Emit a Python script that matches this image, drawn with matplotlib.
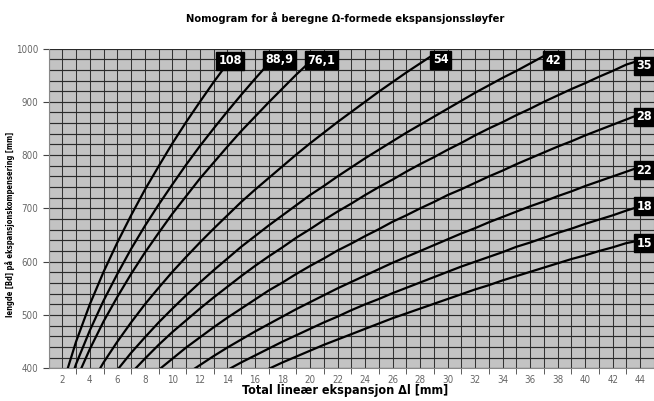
import numpy as np
import matplotlib
matplotlib.use("Agg")
import matplotlib.pyplot as plt
from matplotlib import font_manager

# Nomogram for Ω-formede ekspansjonssløyfer: lengde mot ekspansjon
names = {f.name for f in font_manager.fontManager.ttflist}
NARROW = [n for n in ["Liberation Sans Narrow", "DejaVu Sans"] if n in names]
plt.rcParams["font.family"] = NARROW
plt.rcParams["font.stretch"] = "condensed"

title = "Nomogram for å beregne Ω-formede ekspansjonssløyfer"
x_label = "Total lineær ekspansjon Δl [mm]"
y_label = "lengde [Bd] på ekspansjonskompensering [mm]"

# rørdiameter (etikett) -> første ekspansjon i serien og verdier for hver mm
series = {
    "108": (2, [367, 450, 520, 581, 636, 687, 735, 779, 822, 862, 900, 937, 972]),
    "88,9": (2, [333, 408, 471, 527, 577, 624, 667, 707, 745, 782, 817, 850, 882,
                 913, 943, 972]),
    "76,1": (3, [378, 436, 488, 534, 577, 617, 654, 690, 723, 756, 786, 816, 845,
                 872, 899, 925, 951, 975]),
    "54": (4, [367, 411, 450, 486, 520, 551, 581, 609, 636, 662, 687, 712, 735,
               757, 779, 801, 822, 842, 862, 881, 900, 919, 937, 955, 972, 989]),
    "42": (5, [362, 397, 429, 458, 486, 512, 537, 561, 584, 606, 628, 648, 668,
               687, 706, 725, 742, 760, 777, 794, 810, 826, 842, 857, 872, 887,
               902, 917, 931, 945, 958, 972, 986]),
    "35": (7, [391, 418, 444, 468, 490, 512, 533, 553, 573, 592, 610, 627, 645,
               661, 678, 694, 709, 725, 740, 754, 769, 783, 796, 810, 823, 837,
               850, 862, 875, 887, 900, 912, 924, 935, 947, 958, 970, 978]),
    "28": (9, [397, 418, 439, 458, 477, 495, 512, 529, 546, 561, 577, 592, 606,
               621, 634, 648, 661, 675, 687, 700, 712, 725, 736, 748, 760, 771,
               783, 794, 805, 816, 826, 837, 847, 857, 867, 877]),
    "22": (11, [389, 406, 423, 439, 454, 469, 483, 497, 511, 524, 537, 550, 562,
                574, 586, 598, 609, 620, 631, 642, 653, 663, 674, 684, 694, 704,
                713, 723, 732, 742, 751, 760, 769, 778]),
    "18": (14, [397, 411, 424, 437, 450, 462, 474, 486, 497, 509, 520, 530, 541,
                551, 561, 571, 581, 591, 600, 609, 618, 628, 636, 645, 654, 662,
                671, 679, 687, 696, 704]),
    "15": (16, [387, 399, 411, 422, 433, 444, 454, 464, 474, 484, 494, 503, 512,
                521, 530, 539, 548, 556, 565, 573, 581, 589, 597, 605, 612, 620,
                627, 635, 640]),
}

# etikettplassering (punkter) i forhold til siste punkt
label_offset = {
    "108": (2, 2), "88,9": (8, 2.5), "76,1": (8, 1.3), "54": (5, -4),
    "42": (7, -3), "35": (3, -4), "28": (3, -2), "22": (3, -2.5),
    "18": (3, 0), "15": (3, -2),
}

fig = plt.figure(figsize=(6.54, 4.01), dpi=100)
ax = fig.add_axes([0.0742, 0.0815, 0.9258, 0.7975])
ax.set_facecolor("#c3c3c3")

ax.set_xlim(1, 45)
ax.set_ylim(400, 1000)

for xv in range(1, 46):
    ax.axvline(xv, color="#333333", lw=0.75, zorder=1)
for yv in range(400, 1001, 20):
    ax.axhline(yv, color="#2a2a2a", lw=0.85, zorder=1)

for name, (start, vals) in series.items():
    xs = np.arange(start, start + len(vals))
    ax.plot(xs, vals, color="black", lw=1.6, zorder=3, clip_on=True)
    dx, dy = label_offset[name]
    ax.annotate(name, (xs[-1], vals[-1]), xytext=(dx, dy),
                textcoords="offset points", ha="center", va="center",
                color="white", fontsize=9, fontweight="bold",
                bbox=dict(boxstyle="square,pad=0.2", fc="black", ec="black"),
                zorder=5, annotation_clip=False)

ax.set_xticks(range(2, 45, 2))
ax.set_xticks(range(3, 45, 2), minor=True)
ax.tick_params(axis="x", which="major", length=0, pad=5, labelsize=7,
               labelcolor="#666666")
ax.tick_params(axis="x", which="minor", length=4, color="#444444")
ax.set_yticks(range(400, 1001, 100))
ax.tick_params(axis="y", length=4, labelsize=7, labelcolor="#666666",
               color="#444444")

for side in ["top", "right"]:
    ax.spines[side].set_visible(False)
ax.spines["left"].set_color("#888888")
ax.spines["bottom"].set_color("#888888")

fig.text(0.528, 0.955, title, ha="center", va="center", fontsize=8,
         fontweight="bold")
fig.text(0.528, 0.026, x_label, ha="center", va="center", fontsize=9,
         fontweight="bold")
fig.text(0.015, 0.44, y_label, rotation=90, ha="center", va="center",
         fontsize=5.5, fontweight="bold")

fig.savefig("out.png", dpi=100)
